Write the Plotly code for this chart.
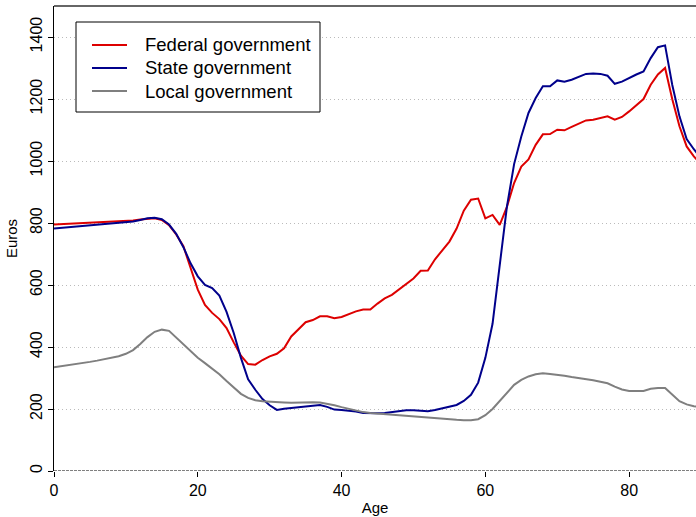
import plotly.graph_objects as go

# Per-capita public expenditure by age and level of government (euros)
ages = list(range(0, 91))

federal = [
    795, 796, 797, 798, 799, 800, 801, 802, 803, 804,
    806, 808, 811, 814, 815, 810, 793, 763, 725, 655,
    585, 536, 510, 490, 461, 415, 372, 345, 343, 358,
    370, 378, 396, 434, 458, 480, 487, 499, 499, 493,
    497, 506, 515, 521, 521, 540, 557, 568, 586, 602,
    621, 646, 647, 683, 710, 740, 782, 840, 875, 879,
    815, 826, 794, 852, 929, 982, 1005, 1052, 1086, 1087,
    1101, 1099, 1110, 1120, 1131, 1133, 1139, 1144, 1133, 1142,
    1160, 1180, 1200, 1246, 1279, 1300, 1199, 1112, 1047, 1015,
    990,
]

state = [
    782, 784, 786, 788, 790, 792, 794, 797, 799, 800,
    802, 805, 810, 815, 817, 812, 795, 765, 722, 670,
    628, 600, 590, 566, 513, 445, 365, 296, 262, 232,
    212, 197, 201, 203, 206, 208, 210, 213, 207, 198,
    197, 195, 192, 187, 186, 186, 187, 190, 194, 196,
    196, 194, 193, 197, 203, 207, 213, 226, 246, 285,
    365, 475, 655, 853, 990, 1079, 1155, 1203, 1241, 1241,
    1260, 1256, 1262, 1272, 1281, 1282, 1281, 1275, 1249, 1256,
    1268, 1279, 1289, 1332, 1367, 1373, 1245, 1144, 1071, 1038,
    1010,
]

local = [
    335, 338, 341, 344, 348, 352, 356, 360, 364, 370,
    378, 390, 410, 432, 449, 456, 452, 430, 408, 385,
    365, 348, 330, 312, 290, 268, 249, 236, 228, 225,
    223, 222, 221, 220, 221, 222, 222, 221, 217, 212,
    206, 200, 195, 190, 187, 185, 183, 181, 180, 178,
    176, 174, 172, 170, 169, 167, 165, 164, 164, 167,
    180, 200, 226, 252, 278, 294, 305, 312, 315, 313,
    311, 307, 303, 300, 297, 293, 288, 283, 272, 263,
    258, 258, 258, 265, 268, 268, 245, 225, 215, 209,
    206,
]

series_names = ["Federal government", "State government", "Local government"]
series_colors = ["#DD0000", "#00008B", "#7F7F7F"]

x_ticks = [0, 20, 40, 60, 80]
y_ticks = [0, 200, 400, 600, 800, 1000, 1200, 1400]

FONT = "Liberation Sans, Arial, sans-serif"

W, H = 696, 517
M_L, M_R, M_T, M_B = 54, 0, 6, 46
PLOT_W = W - M_L - M_R
PLOT_H = H - M_T - M_B


def px_x(px):
    """Horizontal pixel position -> paper fraction."""
    return (px - M_L) / PLOT_W


def px_y(py):
    """Vertical pixel position (from top) -> paper fraction."""
    return 1 - (py - M_T) / PLOT_H


fig = go.Figure()
for name, values, color in zip(series_names, [federal, state, local], series_colors):
    fig.add_trace(go.Scatter(
        x=ages, y=values, mode="lines", name=name,
        line=dict(color=color, width=2), showlegend=False,
    ))

fig.update_layout(
    width=W, height=H,
    margin=dict(l=M_L, r=M_R, t=M_T, b=M_B),
    plot_bgcolor="white", paper_bgcolor="white",
    font=dict(family=FONT, color="#000000", size=16),
)

fig.update_xaxes(
    range=[0, 89.3], tickvals=x_ticks, ticks="outside", ticklen=5,
    tickcolor="#000000", showgrid=False, zeroline=False, showline=False,
    tickfont=dict(size=16),
    title=dict(text="Age", font=dict(size=15), standoff=4),
)
fig.update_yaxes(
    range=[0, 1500], tickvals=y_ticks, ticks="outside", ticklen=5,
    tickcolor="#000000", tickangle=-90, showline=True, linecolor="#000000",
    linewidth=1, zeroline=False, showgrid=True, gridcolor="#BBBBBB",
    griddash="1px,3px", gridwidth=1, tickfont=dict(size=16),
    title=dict(text="Euros", font=dict(size=15), standoff=6),
)

# Dashed baseline at zero and frame line along the top
fig.add_shape(type="line", xref="paper", yref="y", x0=0, x1=1, y0=0, y1=0,
              line=dict(color="#000000", width=1, dash="3px,1px"))
fig.add_shape(type="line", xref="paper", yref="paper", x0=0, x1=1, y0=1, y1=1,
              line=dict(color="#333333", width=1.5))

# Legend box with line keys and labels
fig.add_shape(type="rect", xref="paper", yref="paper",
              x0=px_x(76), x1=px_x(320), y0=px_y(112), y1=px_y(22),
              line=dict(color="#000000", width=1), fillcolor="white", layer="above")
row_y = [45, 68, 91]
for name, color, ry in zip(series_names, series_colors, row_y):
    fig.add_shape(type="line", xref="paper", yref="paper",
                  x0=px_x(92), x1=px_x(127), y0=px_y(ry), y1=px_y(ry),
                  line=dict(color=color, width=2), layer="above")
    fig.add_annotation(xref="paper", yref="paper", x=px_x(143), y=px_y(ry),
                       text=name, showarrow=False, xanchor="left", yanchor="middle",
                       font=dict(size=18.5, family=FONT, color="#000000"))

fig.write_html("out.html")
